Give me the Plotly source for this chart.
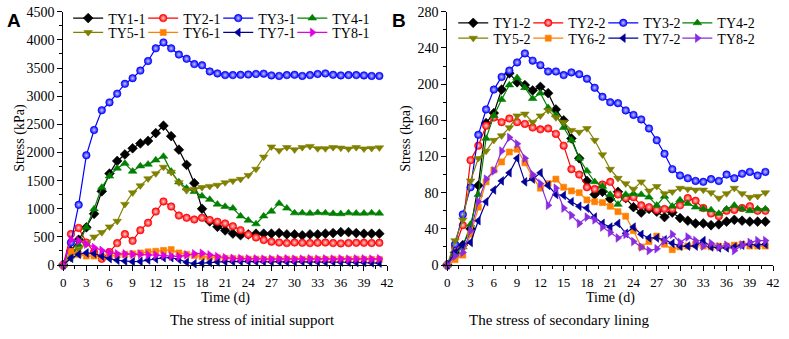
import plotly.graph_objects as go

days = list(range(42))

# ---- Panel A: stress of initial support (kPa)
ty1_1 = [0, 250, 450, 670, 910, 1310, 1625, 1850, 1965, 2075, 2160, 2205, 2345, 2475, 2290, 2050, 1780, 1455, 1000, 775, 680, 615, 560, 530, 545, 557, 557, 557, 568, 545, 545, 528, 545, 545, 557, 568, 585, 585, 568, 557, 557, 557]
ty2_1 = [0, 550, 660, 400, 230, 110, 230, 390, 550, 430, 620, 750, 950, 1130, 1040, 880, 840, 810, 840, 800, 770, 740, 690, 620, 540, 490, 445, 415, 400, 390, 400, 395, 390, 395, 400, 390, 385, 390, 395, 395, 390, 395]
ty3_1 = [0, 400, 1070, 1950, 2400, 2750, 2890, 3045, 3220, 3320, 3455, 3625, 3850, 3955, 3850, 3740, 3665, 3570, 3550, 3440, 3405, 3375, 3375, 3380, 3385, 3395, 3400, 3370, 3360, 3375, 3380, 3360, 3375, 3395, 3405, 3380, 3370, 3375, 3375, 3370, 3360, 3360]
ty4_1 = [0, 160, 360, 670, 995, 1380, 1580, 1720, 1805, 1665, 1760, 1790, 1865, 1930, 1665, 1475, 1365, 1305, 1225, 1165, 1080, 1040, 1010, 870, 795, 730, 870, 955, 1095, 1010, 925, 925, 920, 930, 925, 915, 910, 925, 920, 920, 925, 920]
ty5_1 = [0, 120, 280, 380, 500, 580, 680, 780, 1080, 1285, 1410, 1535, 1625, 1740, 1650, 1465, 1325, 1350, 1380, 1400, 1420, 1465, 1495, 1525, 1595, 1705, 1920, 2100, 2035, 2090, 2050, 2090, 2110, 2070, 2070, 2090, 2080, 2065, 2090, 2065, 2075, 2085]
ty6_1 = [0, 245, 190, 160, 160, 145, 160, 175, 190, 200, 215, 235, 245, 260, 275, 215, 190, 170, 150, 140, 130, 120, 115, 110, 105, 105, 100, 100, 100, 105, 100, 100, 105, 100, 100, 105, 100, 100, 105, 100, 100, 100]
ty7_1 = [0, 120, 190, 215, 205, 160, 115, 85, 70, 60, 65, 90, 110, 130, 130, 100, 50, 25, 35, 45, 55, 60, 60, 65, 65, 60, 60, 55, 60, 55, 55, 60, 55, 55, 50, 55, 50, 50, 45, 45, 40, 35]
ty8_1 = [0, 450, 430, 370, 310, 260, 220, 200, 200, 190, 190, 180, 175, 170, 160, 150, 180, 200, 210, 180, 150, 130, 120, 115, 110, 110, 105, 105, 110, 110, 105, 105, 110, 105, 110, 105, 110, 105, 110, 110, 105, 110]

# ---- Panel B: stress of secondary lining (kpa)
ty1_2 = [0, 14, 22, 40, 88, 157, 168, 194, 212, 202, 199, 193, 197, 190, 172, 160, 140, 118, 93, 78, 81, 73, 81, 74, 64, 58, 62, 59, 53, 58, 52, 49, 46, 46, 44, 45, 48, 50, 49, 48, 48, 48]
ty2_2 = [0, 20, 44, 116, 132, 154, 163, 158, 162, 158, 156, 152, 150, 151, 145, 132, 106, 100, 86, 84, 89, 92, 78, 74, 75, 66, 64, 61, 62, 62, 66, 74, 71, 63, 57, 54, 60, 61, 63, 65, 60, 60]
ty3_2 = [0, 23, 56, 86, 144, 172, 194, 208, 215, 224, 234, 226, 221, 214, 214, 210, 213, 211, 206, 196, 186, 180, 179, 171, 166, 161, 151, 138, 123, 106, 99, 96, 93, 92, 95, 93, 100, 96, 101, 103, 99, 103]
ty4_2 = [0, 12, 20, 45, 78, 140, 165, 183, 199, 207, 196, 184, 190, 174, 166, 152, 138, 118, 104, 92, 87, 78, 67, 78, 79, 78, 75, 66, 76, 65, 72, 68, 64, 62, 61, 57, 62, 66, 62, 60, 62, 62]
ty5_2 = [0, 27, 50, 93, 118, 126, 138, 143, 152, 165, 167, 158, 165, 171, 163, 158, 149, 147, 151, 138, 122, 106, 96, 90, 84, 92, 82, 87, 79, 81, 85, 84, 83, 83, 80, 74, 79, 85, 79, 75, 76, 80]
ty6_2 = [0, 6, 11, 34, 64, 92, 105, 114, 125, 128, 113, 97, 85, 90, 95, 86, 82, 80, 72, 70, 69, 65, 59, 54, 38, 20, 26, 32, 23, 17, 20, 21, 23, 21, 20, 21, 21, 22, 23, 21, 21, 21]
ty7_2 = [0, 14, 22, 25, 49, 70, 83, 93, 102, 118, 92, 95, 102, 88, 78, 77, 70, 65, 63, 53, 46, 42, 46, 35, 42, 34, 30, 30, 28, 24, 21, 21, 21, 27, 20, 19, 19, 20, 22, 23, 22, 23]
ty8_2 = [0, 10, 14, 38, 70, 95, 104, 126, 141, 134, 118, 100, 90, 66, 85, 63, 55, 46, 53, 50, 42, 36, 30, 34, 26, 20, 16, 18, 27, 34, 25, 31, 27, 21, 24, 20, 22, 16, 22, 25, 27, 27]

x_ticks = list(range(0, 43, 3))
left_y_ticks = list(range(0, 4501, 500))
right_y_ticks = list(range(0, 281, 40))

SERIF = "Liberation Serif"
SANS = "Liberation Sans"

# style per series index: (color, symbol, size, ball-gradient colour)
styles = [
    ("#000000", "diamond", 7.5, None),
    ("#FF0000", "circle", 7.5, "#FFD0D0"),
    ("#0000FF", "circle", 7.5, "#C8C8FF"),
    ("#008000", "triangle-up", 7.5, None),
    ("#808000", "triangle-down", 7.5, None),
    ("#FF8000", "square", 6, None),
    ("#000099", "triangle-left", 7.5, None),
    (None, "triangle-right", 7.5, None),
]

left_series = [("TY1-1", ty1_1), ("TY2-1", ty2_1), ("TY3-1", ty3_1), ("TY4-1", ty4_1),
               ("TY5-1", ty5_1), ("TY6-1", ty6_1), ("TY7-1", ty7_1), ("TY8-1", ty8_1)]
right_series = [("TY1-2", ty1_2), ("TY2-2", ty2_2), ("TY3-2", ty3_2), ("TY4-2", ty4_2),
                ("TY5-2", ty5_2), ("TY6-2", ty6_2), ("TY7-2", ty7_2), ("TY8-2", ty8_2)]

W, H = 789, 339

def px(x):
    return x / W

def py(y):
    return 1 - y / H

fig = go.Figure()

# legend grid (pixel positions of each entry's line start and row centre)
left_cols = [71, 147, 223, 298]
right_cols = [461, 537, 613, 688]
left_rows = [12, 27]
right_rows = [17, 33]

legend_layout = {}
leg_common = dict(orientation="v", xanchor="left", yanchor="middle",
                  bgcolor="rgba(0,0,0,0)", borderwidth=0,
                  font=dict(family=SERIF, size=14, color="black"),
                  itemwidth=30, itemclick=False, itemdoubleclick=False)

def add_panel(series, xa, ya, purple, cols, rows, offset):
    for i, (name, vals) in enumerate(series):
        color, symbol, size, grad = styles[i]
        if color is None:
            color = purple
        marker = dict(symbol=symbol, size=size, color=color,
                      line=dict(width=0.6, color=color))
        if grad:
            marker["gradient"] = dict(type="radial", color=grad)
        k = offset + i + 1
        lid = "legend" if k == 1 else f"legend{k}"
        fig.add_trace(go.Scatter(
            x=days, y=vals, name=name, mode="lines+markers",
            line=dict(color=color, width=1.2), marker=marker,
            xaxis=xa, yaxis=ya, cliponaxis=False, legend=lid,
        ))
        legend_layout[lid] = dict(x=px(cols[i % 4] - 5), y=py(rows[i // 4]), **leg_common)

add_panel(left_series, "x", "y", "#E000E0", left_cols, left_rows, 0)
add_panel(right_series, "x2", "y2", "#8A2BE2", right_cols, right_rows, 8)

axis_common = dict(
    showline=True, linecolor="black", linewidth=1, mirror=False,
    ticks="outside", ticklen=5, tickwidth=1, tickcolor="black",
    showgrid=False, zeroline=False, ticklabeloverflow="allow",
    tickfont=dict(family=SERIF, size=14, color="black"),
)

fig.update_layout(
    width=W, height=H,
    margin=dict(l=0, r=0, t=0, b=0),
    paper_bgcolor="white", plot_bgcolor="white",
    showlegend=True,
    xaxis=dict(domain=[px(61), px(389)], range=[0, 42], tickvals=x_ticks, anchor="y",
               minor=dict(ticks="outside", ticklen=3, tickwidth=1, tickcolor="black", dtick=1.5, tick0=0),
               **axis_common),
    yaxis=dict(domain=[py(270), py(5)], range=[0, 4500], tickvals=left_y_ticks, anchor="x",
               minor=dict(ticks="outside", ticklen=3, tickwidth=1, tickcolor="black", dtick=250, tick0=0),
               **axis_common),
    xaxis2=dict(domain=[px(450), px(780)], range=[0, 42], tickvals=x_ticks, anchor="y2",
                minor=dict(ticks="outside", ticklen=3, tickwidth=1, tickcolor="black", dtick=1.5, tick0=0),
                **axis_common),
    yaxis2=dict(domain=[py(270), py(5)], range=[0, 280], tickvals=right_y_ticks, anchor="x2",
                minor=dict(ticks="outside", ticklen=3, tickwidth=1, tickcolor="black", dtick=20, tick0=0),
                **axis_common),
    **legend_layout,
)
fig.update_xaxes(tickfont=dict(family=SERIF, size=13, color="black"))

ann = []
ann.append(dict(text="<b>A</b>", x=px(2), y=py(1), xanchor="left", yanchor="top",
                font=dict(family=SANS, size=19, color="black")))
ann.append(dict(text="<b>B</b>", x=px(392), y=py(1), xanchor="left", yanchor="top",
                font=dict(family=SANS, size=19, color="black")))
ann.append(dict(text="Stress (kPa)", x=px(17), y=py(137), textangle=-90, xanchor="center", yanchor="middle",
                font=dict(family=SERIF, size=14, color="black")))
ann.append(dict(text="Stress (kpa)", x=px(408), y=py(137), textangle=-90, xanchor="center", yanchor="middle",
                font=dict(family=SERIF, size=14, color="black")))
ann.append(dict(text="Time (d)", x=px(225), y=py(295), xanchor="center", yanchor="top", borderpad=0,
                font=dict(family=SERIF, size=14, color="black")))
ann.append(dict(text="Time (d)", x=px(615), y=py(295), xanchor="center", yanchor="top", borderpad=0,
                font=dict(family=SERIF, size=14, color="black")))
ann.append(dict(text="The stress of initial support", x=px(253), y=py(328), xanchor="center", yanchor="middle",
                font=dict(family=SERIF, size=15, color="black")))
ann.append(dict(text="The stress of secondary lining", x=px(563), y=py(328), xanchor="center", yanchor="middle",
                font=dict(family=SERIF, size=15, color="black")))
for a in ann:
    a.update(xref="paper", yref="paper", showarrow=False)
fig.update_layout(annotations=ann)

fig.write_html("out.html", config={"displayModeBar": False},
               post_script="document.body.style.margin='0';document.body.style.overflow='hidden';document.documentElement.style.overflow='hidden';")
